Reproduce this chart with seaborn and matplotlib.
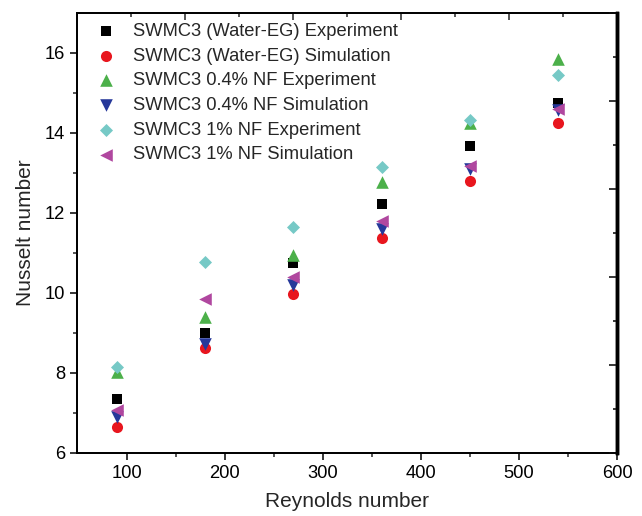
import numpy as np
import pandas as pd
import matplotlib
matplotlib.use("Agg")
import matplotlib.pyplot as plt
import seaborn as sns
from matplotlib.ticker import FixedLocator, NullFormatter

reynolds = [90, 180, 270, 360, 450, 540]
weg_exp = [7.34, 9.00, 10.74, 12.22, 13.67, 14.74]
weg_sim = [6.65, 8.61, 9.96, 11.36, 12.80, 14.24]
nf04_exp = [8.02, 9.38, 10.93, 12.77, 14.25, 15.84]
nf04_sim = [6.90, 8.71, 10.18, 11.60, 13.09, 14.57]
nf1_exp = [8.14, 10.76, 11.64, 13.15, 14.32, 15.44]
nf1_sim = [7.06, 9.84, 10.39, 11.80, 13.17, 14.60]

labels = [
    "SWMC3 (Water-EG) Experiment",
    "SWMC3 (Water-EG) Simulation",
    "SWMC3 0.4% NF Experiment",
    "SWMC3 0.4% NF Simulation",
    "SWMC3 1% NF Experiment",
    "SWMC3 1% NF Simulation",
]
series = [weg_exp, weg_sim, nf04_exp, nf04_sim, nf1_exp, nf1_sim]
colors = ["#000000", "#e8161e", "#4cb04a", "#26389a", "#76c9c6", "#b0479f"]
markers = ["s", "o", "^", "v", "D", "<"]
sizes = [50, 64, 82, 82, 44, 82]

sns.set_style("ticks")
plt.rcParams["font.family"] = ["Liberation Sans", "DejaVu Sans"]

frames = []
for lab, vals in zip(labels, series):
    frames.append(pd.DataFrame({"Re": reynolds, "Nu": vals, "series": lab}))
df = pd.concat(frames, ignore_index=True)

fig = plt.figure(figsize=(6.42, 5.16), dpi=100)
ax = fig.add_axes([0.1207, 0.1227, 0.8403, 0.8527])

for lab, col, mk, s in zip(labels, colors, markers, sizes):
    sub = df[df["series"] == lab]
    sns.scatterplot(data=sub, x="Re", y="Nu", ax=ax, color=col, marker=mk,
                    s=s, linewidth=0, label=lab, zorder=3)

ax.set_xlim(50, 600)
ax.set_ylim(6, 17)
ax.xaxis.set_major_locator(FixedLocator([100, 200, 300, 400, 500, 600]))
ax.xaxis.set_minor_locator(FixedLocator([150, 250, 350, 450, 550]))
ax.yaxis.set_major_locator(FixedLocator([6, 8, 10, 12, 14, 16]))
ax.yaxis.set_minor_locator(FixedLocator([7, 9, 11, 13, 15]))
ax.tick_params(which="major", direction="out", length=5, width=1.1,
               labelsize=13.2, colors="black", pad=4)
ax.tick_params(which="minor", direction="out", length=2.6, width=1.1)
ax.set_xlabel("Reynolds number", fontsize=15, labelpad=7)
ax.set_ylabel("Nusselt number", fontsize=15, labelpad=7)

# top axis (unlabelled, inward ticks)
axt = ax.twiny()
axt.set_xlim(50, 600)
axt.xaxis.set_major_locator(FixedLocator([50 + 110 * k for k in range(6)]))
axt.xaxis.set_minor_locator(FixedLocator([105 + 110 * k for k in range(5)]))
axt.tick_params(axis="x", which="major", direction="in", length=5, width=1.1,
                labeltop=False, top=True)
axt.tick_params(axis="x", which="minor", direction="in", length=2.6, width=1.1, top=True)
axt.xaxis.set_major_formatter(NullFormatter())

# right axis (unlabelled, inward ticks)
axr = ax.twinx()
axr.set_ylim(6, 17)
axr.yaxis.set_major_locator(FixedLocator([6 + 2.2 * k for k in range(6)]))
axr.yaxis.set_minor_locator(FixedLocator([7.1 + 2.2 * k for k in range(5)]))
axr.tick_params(axis="y", which="major", direction="in", length=5.5, width=1.3,
                labelright=False, right=True)
axr.tick_params(axis="y", which="minor", direction="in", length=2.6, width=1.3, right=True)
axr.yaxis.set_major_formatter(NullFormatter())

for a in (ax, axt, axr):
    for side in ("left", "bottom", "top"):
        a.spines[side].set_linewidth(1.1)
        a.spines[side].set_color("black")
    a.spines["right"].set_linewidth(2.4)
    a.spines["right"].set_color("black")

ax.legend(loc="upper left", bbox_to_anchor=(0.035, 0.977), frameon=False,
          fontsize=13.2, handlelength=1.0, handletextpad=1.0, labelspacing=0.42,
          borderpad=0, borderaxespad=0, markerscale=1.0)

fig.savefig("out.png", dpi=100)
